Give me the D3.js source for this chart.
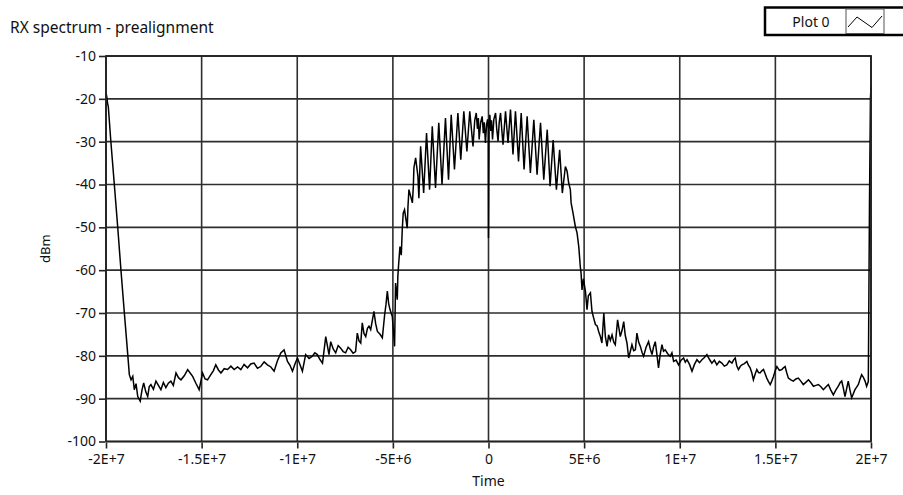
<!DOCTYPE html>
<html>
<head>
  <title>RX spectrum - prealignment</title>
  <script type="text/javascript" src="https://d3js.org/d3.v7.min.js"></script>
  <style>
    body { margin: 0; background: #fff; }
    text { font-family: "Noto Sans", "Open Sans", sans-serif; fill: #111; }
  </style>
</head>
<body>
  <div id="container"></div>
  <script type="text/javascript">
    // x ticks (Hz) and their labels as LabVIEW prints them
    var xTicks = [-2e7, -1.5e7, -1e7, -5e6, 0, 5e6, 1e7, 1.5e7, 2e7];
    var xTickLabels = ['-2E+7', '-1.5E+7', '-1E+7', '-5E+6', '0', '5E+6', '1E+7', '1.5E+7', '2E+7'];
    var yTicks = [-10, -20, -30, -40, -50, -60, -70, -80, -90, -100];
    var yTickLabels = ['-10', '-20', '-30', '-40', '-50', '-60', '-70', '-80', '-90', '-100'];

    // spectrum trace, [MHz, dBm]
    var leftEdge = [[-20.00,-18.6],[-19.96,-19.5],[-19.92,-21.0],[-19.88,-21.8],[-19.74,-30.3],[-19.57,-39.7],
      [-19.39,-49.8],[-19.22,-59.9],[-19.04,-70.0],[-18.87,-79.3],[-18.78,-84.4]];
    var leftFloor = [[-18.69,-85.6],[-18.60,-84.8],[-18.52,-87.9],[-18.43,-86.5],[-18.34,-89.5],[-18.21,-90.6],
      [-18.12,-88.0],[-18.03,-86.3],[-17.92,-88.4],[-17.82,-89.5],[-17.74,-87.2],[-17.65,-86.7],[-17.52,-87.8],
      [-17.39,-85.9],[-17.26,-86.9],[-17.13,-87.9],[-17.00,-86.2],[-16.87,-87.4],[-16.74,-86.4],[-16.61,-85.9],
      [-16.48,-86.9],[-16.34,-84.0],[-16.21,-85.1],[-16.08,-85.6],[-15.90,-84.6],[-15.73,-83.2],[-15.60,-84.0],
      [-15.47,-84.8],[-15.30,-86.4],[-15.13,-87.9],[-14.95,-84.0],[-14.82,-85.4],[-14.69,-85.6],[-14.52,-84.4],
      [-14.39,-83.5],[-14.26,-82.1],[-14.12,-83.3],[-13.99,-84.0],[-13.82,-83.0],[-13.64,-83.2],[-13.47,-82.4],
      [-13.30,-83.2],[-13.12,-82.6],[-12.95,-83.2],[-12.78,-82.0],[-12.60,-82.8],[-12.43,-81.9],[-12.26,-81.7],
      [-12.08,-82.9],[-11.91,-82.5],[-11.73,-81.4],[-11.56,-82.1],[-11.38,-82.6],[-11.21,-83.6],[-11.04,-81.2],
      [-10.86,-79.3],[-10.69,-78.6],[-10.51,-81.3],[-10.38,-82.2],[-10.25,-83.6],[-10.12,-81.9],[-9.99,-80.5],
      [-9.86,-82.0],[-9.73,-83.6],[-9.56,-79.7],[-9.38,-80.6],[-9.21,-80.1],[-9.08,-79.3],[-8.95,-79.7],
      [-8.82,-80.8],[-8.68,-81.7],[-8.51,-75.5],[-8.34,-79.7],[-8.25,-76.7],[-8.12,-78.4],[-7.99,-79.3],
      [-7.86,-77.6],[-7.73,-78.2],[-7.60,-79.0],[-7.47,-79.3],[-7.34,-78.0],[-7.21,-78.6],[-7.08,-79.4],
      [-6.95,-79.0],[-6.86,-74.7],[-6.77,-76.5],[-6.68,-77.0],[-6.60,-72.3],[-6.51,-74.8],[-6.42,-75.5],
      [-6.33,-73.6],[-6.25,-73.1]];
    var leftShoulder = [[-6.16,-73.9],[-5.99,-69.6],[-5.90,-72.5],[-5.81,-74.3],[-5.68,-74.9],[-5.55,-75.8],
      [-5.43,-70.4],[-5.36,-68.0],[-5.29,-64.9],[-5.22,-67.8],[-5.15,-69.2],[-5.03,-70.8],[-4.91,-77.8],
      [-4.86,-63.0],[-4.77,-66.9],[-4.74,-61.5],[-4.70,-58.7],[-4.63,-54.5],[-4.56,-56.5],[-4.51,-50.6],
      [-4.46,-46.7],[-4.39,-45.9],[-4.25,-50.2],[-4.21,-45.1],[-4.16,-41.2],[-3.98,-44.3],[-3.93,-40.4],
      [-3.90,-36.1],[-3.81,-33.8],[-3.69,-38.1],[-3.64,-43.2]];
    var mainLobe = [[-3.55,-31.1],[-3.39,-42.0],[-3.24,-28.0],[-3.08,-41.2],[-2.94,-26.4],[-2.77,-40.8],
      [-2.60,-25.6],[-2.43,-40.0],[-2.25,-24.5],[-2.09,-38.9],[-1.95,-23.7],[-1.78,-36.5],[-1.60,-23.3],
      [-1.45,-34.2],[-1.29,-22.9],[-1.13,-32.3],[-0.98,-22.9],[-0.81,-31.1],[-0.72,-25.0],[-0.64,-23.3],
      [-0.58,-27.0],[-0.53,-24.5],[-0.49,-29.5],[-0.41,-25.5],[-0.33,-24.1],[-0.27,-28.0],[-0.22,-25.5],
      [-0.16,-30.3],[-0.10,-26.0],[-0.05,-24.8],[-0.01,-27.0],[0.00,-52.5],[0.03,-26.5],[0.07,-23.7],
      [0.12,-27.5],[0.16,-25.0],[0.21,-29.5],[0.28,-24.8],[0.37,-23.3],[0.43,-27.0],[0.50,-29.9],
      [0.56,-25.5],[0.63,-23.3],[0.70,-27.5],[0.76,-30.7],[0.89,-22.9],[1.02,-30.3],[1.15,-22.5],
      [1.28,-33.0],[1.41,-22.9],[1.57,-34.6],[1.71,-23.3],[1.86,-36.5],[2.02,-24.1],[2.19,-37.3],
      [2.37,-24.9],[2.54,-37.7],[2.72,-25.6],[2.89,-38.9],[3.07,-27.2],[3.22,-40.4],[3.38,-29.6],
      [3.55,-41.2],[3.72,-31.9],[3.86,-42.0],[4.02,-35.8]];
    var rightShoulder = [[4.11,-36.9],[4.19,-39.6],[4.28,-41.2],[4.32,-44.3],[4.42,-46.7],[4.54,-49.8],
      [4.63,-51.3],[4.72,-54.5],[4.80,-59.2],[4.84,-60.7],[4.89,-64.6],[4.96,-62.0],[5.07,-65.0],
      [5.15,-69.2],[5.22,-66.0],[5.33,-65.3],[5.41,-69.6],[5.50,-71.2],[5.59,-72.7],[5.68,-73.0],
      [5.76,-74.3],[5.85,-75.5],[5.93,-77.0],[6.03,-70.0],[6.11,-75.5],[6.20,-77.8],[6.28,-75.1]];
    var rightFloor = [[6.37,-76.4],[6.46,-75.1],[6.55,-76.8],[6.63,-77.4],[6.75,-71.6],[6.89,-75.5],
      [6.98,-74.1],[7.07,-72.0],[7.15,-75.2],[7.24,-77.0],[7.33,-80.5],[7.50,-77.4],[7.59,-78.8],
      [7.68,-78.6],[7.76,-74.7],[7.85,-76.8],[7.94,-77.8],[8.03,-79.2],[8.11,-80.1],[8.24,-78.0],
      [8.37,-76.7],[8.46,-78.4],[8.55,-79.7],[8.63,-77.9],[8.72,-76.7],[8.80,-79.5],[8.89,-82.8],
      [8.98,-79.6],[9.07,-77.4],[9.15,-78.9],[9.24,-78.6],[9.37,-79.5],[9.50,-80.1],[9.59,-79.3],
      [9.68,-81.3],[9.81,-81.0],[9.94,-82.1],[10.07,-81.0],[10.20,-80.5],[10.29,-81.5],[10.38,-80.9],
      [10.51,-82.0],[10.64,-83.6],[10.77,-82.0],[10.90,-80.9],[11.03,-81.6],[11.16,-80.9],[11.29,-80.4],
      [11.42,-79.7],[11.55,-80.8],[11.68,-81.7],[11.81,-81.0],[11.94,-82.1],[12.07,-81.3],[12.20,-81.7],
      [12.33,-82.4],[12.46,-82.1],[12.59,-81.2],[12.73,-81.7],[12.81,-81.0],[12.90,-80.5],[12.98,-82.3],
      [13.07,-83.2],[13.16,-82.5],[13.25,-82.1],[13.38,-81.8],[13.51,-81.3],[13.59,-82.2],[13.68,-82.8],
      [13.77,-84.0],[13.85,-85.6],[13.94,-84.3],[14.03,-83.2],[14.12,-83.9],[14.20,-84.0],[14.29,-83.5],
      [14.38,-83.2],[14.46,-84.1],[14.55,-85.2],[14.64,-86.0],[14.73,-86.7],[14.81,-85.9],[14.90,-84.8],
      [14.99,-83.5],[15.08,-82.5],[15.21,-83.4],[15.34,-83.2],[15.42,-82.8],[15.51,-82.5],[15.59,-83.9],
      [15.68,-85.2],[15.81,-85.6],[15.94,-85.9],[16.07,-85.4],[16.20,-85.2],[16.33,-85.9],[16.46,-86.7],
      [16.59,-86.2],[16.73,-85.6],[16.86,-86.3],[16.99,-87.1],[17.12,-86.9],[17.25,-86.7],[17.38,-87.2],
      [17.51,-87.9],[17.64,-87.3],[17.77,-86.7],[17.90,-88.0],[18.03,-89.1],[18.16,-88.0],[18.29,-87.1],
      [18.38,-86.3],[18.47,-85.9],[18.55,-87.5],[18.64,-89.5],[18.73,-87.6],[18.81,-85.9],[18.90,-88.0],
      [18.99,-89.8],[19.07,-88.9],[19.16,-87.9],[19.25,-87.3],[19.34,-86.7],[19.42,-85.5],[19.51,-84.4],
      [19.60,-85.0],[19.69,-85.9],[19.77,-87.1],[19.86,-86.0]];
    var rightEdge = [[19.92,-45.0],[19.97,-20.0],[20.00,-17.2]];

    var trace = [].concat(leftEdge, leftFloor, leftShoulder, mainLobe, rightShoulder, rightFloor, rightEdge);

    var width = 903, height = 495;
    var plot = {left: 106, right: 871, top: 56, bottom: 441.5};

    var svg = d3.select('#container').append('svg')
      .attr('width', width)
      .attr('height', height);

    var x = d3.scaleLinear().domain([-2e7, 2e7]).range([plot.left, plot.right]);
    var y = d3.scaleLinear().domain([-100, -10]).range([plot.bottom, plot.top]);

    // grid
    var grid = svg.append('g').attr('stroke', '#2e2e2e').attr('stroke-width', 1.6);
    grid.selectAll('.vgrid')
      .data(xTicks)
      .enter()
      .append('line')
        .attr('x1', d => x(d)).attr('x2', d => x(d))
        .attr('y1', plot.top).attr('y2', plot.bottom);
    grid.selectAll('.hgrid')
      .data(yTicks)
      .enter()
      .append('line')
        .attr('x1', plot.left).attr('x2', plot.right)
        .attr('y1', d => y(d)).attr('y2', d => y(d));

    // trace
    var line = d3.line()
      .x(d => x(d[0] * 1e6))
      .y(d => y(d[1]));
    svg.append('path')
      .datum(trace)
      .attr('d', line)
      .attr('fill', 'none')
      .attr('stroke', '#000')
      .attr('stroke-width', 1.5)
      .attr('stroke-linejoin', 'miter');

    // frame
    svg.append('rect')
      .attr('x', plot.left)
      .attr('y', plot.top)
      .attr('width', plot.right - plot.left)
      .attr('height', plot.bottom - plot.top)
      .attr('fill', 'none')
      .attr('stroke', '#222')
      .attr('stroke-width', 1.8);

    // axes
    var yAxis = d3.axisLeft(y)
      .tickValues(yTicks)
      .tickSize(6)
      .tickPadding(3)
      .tickFormat((d, i) => yTickLabels[i]);
    var gy = svg.append('g')
      .attr('transform', `translate(${plot.left - 1},0)`)
      .call(yAxis);
    gy.select('.domain').remove();
    gy.selectAll('line').attr('stroke', '#222').attr('stroke-width', 1.6);
    gy.selectAll('text').style('font-size', '14px').attr('fill', '#111');

    var xAxis = d3.axisBottom(x)
      .tickValues(xTicks)
      .tickSize(6)
      .tickPadding(6)
      .tickFormat((d, i) => xTickLabels[i]);
    var gx = svg.append('g')
      .attr('transform', `translate(0,${plot.bottom + 1})`)
      .call(xAxis);
    gx.select('.domain').remove();
    gx.selectAll('line').attr('stroke', '#222').attr('stroke-width', 1.6);
    gx.selectAll('text').style('font-size', '14px').attr('fill', '#111');

    // titles
    svg.append('text')
      .attr('x', 10)
      .attr('y', 33)
      .style('font-size', '15.5px')
      .text('RX spectrum - prealignment');

    svg.append('text')
      .attr('transform', `translate(50,${(plot.top + plot.bottom) / 2}) rotate(-90)`)
      .attr('text-anchor', 'middle')
      .style('font-size', '13px')
      .text('dBm');

    svg.append('text')
      .attr('x', x(0))
      .attr('y', 486)
      .attr('text-anchor', 'middle')
      .style('font-size', '14px')
      .text('Time');

    // legend
    var lg = svg.append('g');
    lg.append('rect')
      .attr('x', 765).attr('y', 7.5)
      .attr('width', 140).attr('height', 27.5)
      .attr('fill', '#fff')
      .attr('stroke', '#000')
      .attr('stroke-width', 2.5);
    lg.append('rect')
      .attr('x', 846).attr('y', 9)
      .attr('width', 38).attr('height', 24.5)
      .attr('fill', '#fff')
      .attr('stroke', '#555')
      .attr('stroke-width', 1);
    lg.append('text')
      .attr('x', 811).attr('y', 27)
      .attr('text-anchor', 'middle')
      .style('font-size', '14px')
      .text('Plot 0');
    lg.append('polyline')
      .attr('points', '848,27 857,17 872,27.5 882,16')
      .attr('fill', 'none')
      .attr('stroke', '#000')
      .attr('stroke-width', 1);
  </script>
</body>
</html>
